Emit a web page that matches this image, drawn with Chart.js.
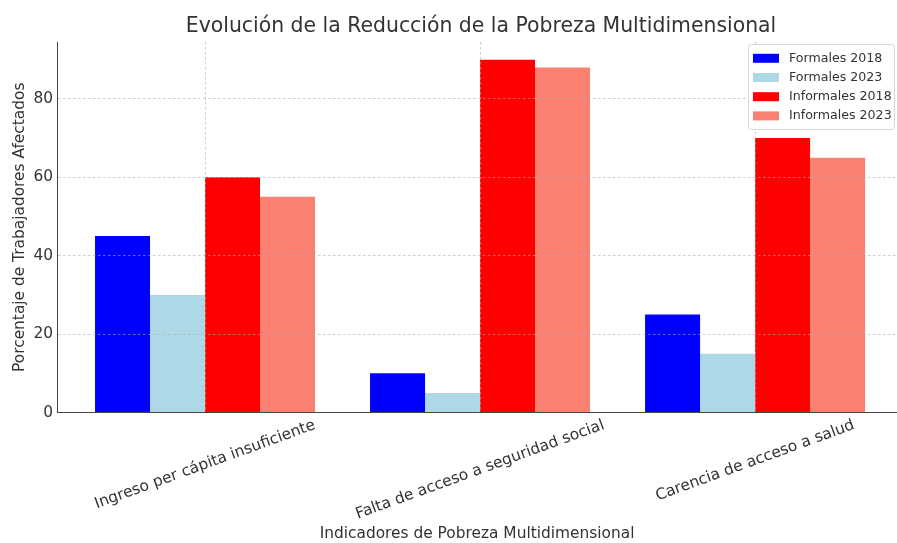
<!DOCTYPE html>
<html>
<head>
<meta charset="utf-8">
<script src="https://cdn.jsdelivr.net/npm/chart.js@4/dist/chart.umd.min.js"></script>
<style>
  body { margin: 0; background: #fff; }
  #wrap { width: 897px; height: 543px; position: relative; }
</style>
</head>
<body>
<div id="wrap"><canvas id="pobrezaChart"></canvas></div>
<script>
// indicadores y valores
var indicadores = ["Ingreso per cápita insuficiente", "Falta de acceso a seguridad social", "Carencia de acceso a salud"];
var formales2018 = [45, 10, 25];
var formales2023 = [30, 5, 15];
var informales2018 = [60, 90, 70];
var informales2023 = [55, 88, 65];

var TITULO = "Evolución de la Reducción de la Pobreza Multidimensional";
var FONT = "'DejaVu Sans', sans-serif";
var TXT = "#333";
var GRID = "rgba(170,170,170,0.6)";

function toPoints(arr) {
  return arr.map(function(v, i) { return { x: i, y: v }; });
}

// titulo centrado sobre los ejes (no sobre el lienzo)
var axesTitle = {
  id: "axesTitle",
  afterDraw: function(chart) {
    var ctx = chart.ctx;
    var area = chart.chartArea;
    ctx.save();
    ctx.font = "20.4px " + FONT;
    ctx.fillStyle = TXT;
    ctx.textAlign = "center";
    ctx.textBaseline = "middle";
    ctx.fillText(TITULO, (area.left + area.right) / 2 + 4, 27);
    ctx.restore();
  }
};

// etiquetas del eje x giradas 20 grados y centradas en cada categoria
var centeredLabels = {
  id: "centeredLabels",
  afterDraw: function(chart) {
    var ctx = chart.ctx;
    var sx = chart.scales.x;
    var ang = 20 * Math.PI / 180;
    var fs = 15.4;
    ctx.save();
    ctx.font = fs + "px " + FONT;
    ctx.fillStyle = TXT;
    ctx.textAlign = "center";
    ctx.textBaseline = "middle";
    indicadores.forEach(function(lab, i) {
      var w = ctx.measureText(lab).width;
      var halfV = (w * Math.sin(ang) + fs * Math.cos(ang)) / 2;
      var cx = sx.getPixelForValue(i);
      var cy = chart.chartArea.bottom + 5 + halfV;
      ctx.save();
      ctx.translate(cx, cy);
      ctx.rotate(-ang);
      ctx.fillText(lab, 0, 0);
      ctx.restore();
    });
    ctx.restore();
  }
};

// leyenda dibujada dentro del area, arriba a la derecha
var boxLegend = {
  id: "boxLegend",
  afterDraw: function(chart) {
    var ctx = chart.ctx;
    var sets = chart.data.datasets;
    var x0 = 748, y0 = 44, w = 147, h = 85, rowH = 19.2;
    ctx.save();
    ctx.fillStyle = "rgba(255,255,255,0.85)";
    ctx.strokeStyle = "#d6d6d6";
    ctx.lineWidth = 1;
    ctx.beginPath();
    ctx.roundRect(x0 + 0.5, y0 + 0.5, w - 1, h, 3);
    ctx.fill();
    ctx.stroke();
    ctx.font = "12.6px " + FONT;
    ctx.textBaseline = "middle";
    for (var i = 0; i < sets.length; i++) {
      var cy = y0 + 14.3 + i * rowH;
      ctx.fillStyle = sets[i].backgroundColor;
      ctx.fillRect(x0 + 5, cy - 4.5, 26, 9);
      ctx.fillStyle = TXT;
      ctx.fillText(sets[i].label, x0 + 41, cy);
    }
    ctx.restore();
  }
};

document.addEventListener("DOMContentLoaded", function() {
  var ctx = document.getElementById("pobrezaChart").getContext("2d");
  new Chart(ctx, {
    type: "bar",
    data: {
      datasets: [
        { label: "Formales 2018", data: toPoints(formales2018), backgroundColor: "#0000ff" },
        { label: "Formales 2023", data: toPoints(formales2023), backgroundColor: "#add8e6" },
        { label: "Informales 2018", data: toPoints(informales2018), backgroundColor: "#ff0000" },
        { label: "Informales 2023", data: toPoints(informales2023), backgroundColor: "#fa8072" }
      ]
    },
    options: {
      responsive: true,
      maintainAspectRatio: false,
      animation: false,
      layout: { padding: { left: 11, right: 0, top: 42, bottom: 0 } },
      datasets: { bar: { barPercentage: 1.0, categoryPercentage: 0.8 } },
      plugins: {
        legend: { display: false },
        tooltip: { enabled: false },
        title: { display: false }
      },
      scales: {
        x: {
          type: "linear",
          min: -0.538,
          max: 2.516,
          offset: false,
          afterBuildTicks: function(scale) {
            scale.ticks = indicadores.map(function(l, i) { return { value: i }; });
          },
          grid: { offset: false, drawTicks: false, color: GRID, z: 1 },
          border: { display: true, color: "#444", width: 1, dash: [2.5, 2.5], z: 2 },
          ticks: { display: false },
          title: {
            display: true,
            text: "Indicadores de Pobreza Multidimensional",
            color: TXT,
            font: { family: FONT, size: 15.4 },
            padding: { top: 112, bottom: 0 }
          }
        },
        y: {
          min: 0,
          max: 94.5,
          grid: { drawTicks: false, color: GRID, z: 1 },
          border: { display: true, color: "#444", width: 1, dash: [2.5, 2.5], z: 2 },
          ticks: {
            stepSize: 20,
            includeBounds: false,
            color: TXT,
            font: { family: FONT, size: 15.4 },
            padding: 4
          },
          title: {
            display: true,
            text: "Porcentaje de Trabajadores Afectados",
            color: TXT,
            font: { family: FONT, size: 15.4 },
            padding: { top: 0, bottom: 0 }
          }
        }
      }
    },
    plugins: [axesTitle, centeredLabels, boxLegend]
  });
});
</script>
</body>
</html>
